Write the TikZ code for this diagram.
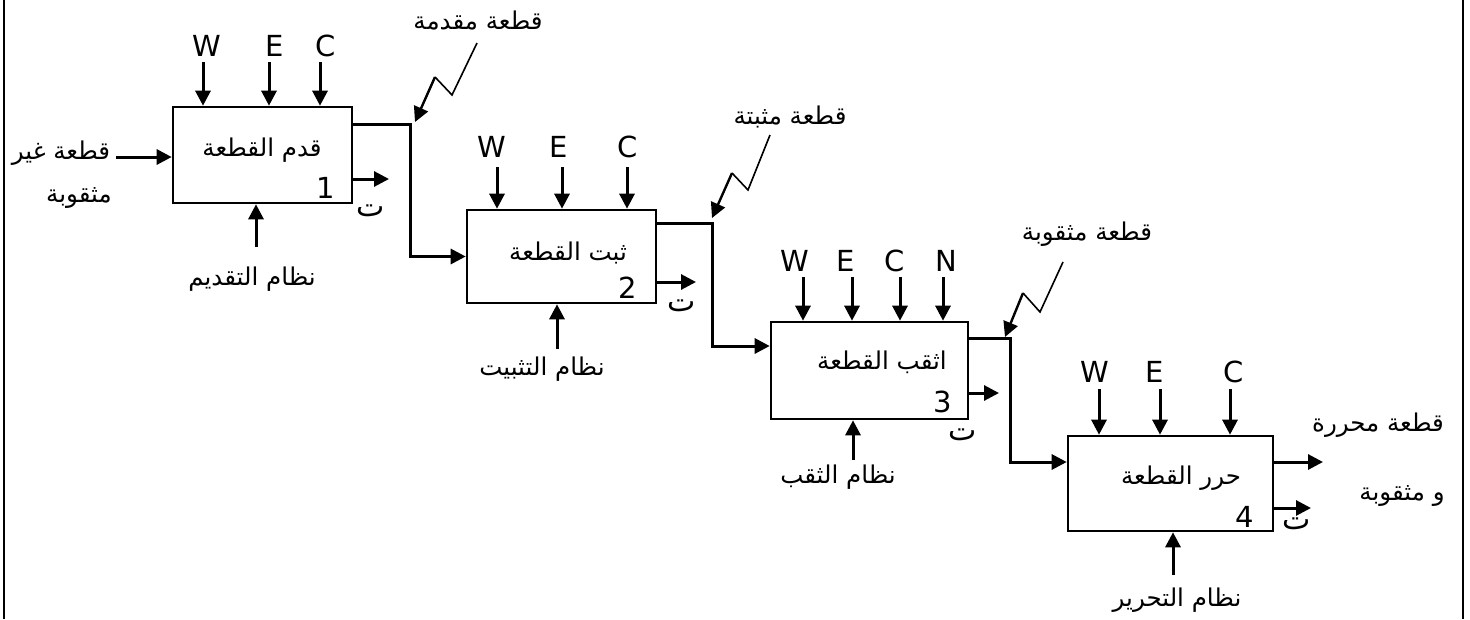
\documentclass[tikz,border=0pt]{standalone}
\usepackage{fontspec}
\setmainfont{DejaVu Sans}
\newfontfamily\arabicfont[Script=Arabic]{DejaVu Sans}
\TeXXeTstate=1
\usetikzlibrary{arrows.meta}
\begin{document}
\begin{tikzpicture}[x=1pt,y=-1pt,
  box/.style={draw, line width=2.6pt, inner sep=0pt},
  arr/.style={line width=3pt, -{Triangle[length=15pt,width=15pt]}},
  zig/.style={line width=1.6pt},
  lat/.style={inner sep=0pt, font=\fontsize{29}{33}\selectfont},
  arl/.style={inner sep=0pt, font=\fontsize{24.5}{28}\selectfont\arabicfont},
  tlab/.style={inner sep=0pt, font=\fontsize{30}{34}\selectfont\arabicfont},
  frame/.style={line width=2.2pt}]
\useasboundingbox (0,0) rectangle (1470,619);
\draw[frame] (4,0) -- (4,619);
\draw[frame] (1463,0) -- (1463,619);

% boxes
\node[box, minimum width=179pt, minimum height=96pt] (b1) at (262.5,155) {};
\node[box, minimum width=189pt, minimum height=93pt] (b2) at (561.5,256.5) {};
\node[box, minimum width=197pt, minimum height=97pt] (b3) at (869.5,370.5) {};
\node[box, minimum width=205pt, minimum height=95pt] (b4) at (1170.5,483.5) {};

% box labels
\node[arl] (t1) at (262,150) {\beginR قدم القطعة\endR};
\node[lat] (n1) at (326,188) {1};
\node[arl] (t2) at (568,253) {\beginR ثبت القطعة\endR};
\node[lat] (n2) at (628,288) {2};
\node[arl] (t3) at (882,362) {\beginR اثقب القطعة\endR};
\node[lat] (n3) at (943,402) {3};
\node[arl] (t4) at (1181,478) {\beginR حرر القطعة\endR};
\node[lat] (n4) at (1245,517) {4};

% top inputs box 1
\node[lat] (w1) at (207,46) {W};
\node[lat] (e1) at (275,46) {E};
\node[lat] (c1) at (326,46) {C};
\coordinate (aw1) at (203,62);
\coordinate (ae1) at (269,62);
\coordinate (ac1) at (320,62);
\foreach \a in {aw1,ae1,ac1} \draw[arr] (\a) -- (\a |- b1.north);

% top inputs box 2
\node[lat] (w2) at (492,147) {W};
\node[lat] (e2) at (559,147) {E};
\node[lat] (c2) at (628,147) {C};
\coordinate (aw2) at (497,167);
\coordinate (ae2) at (562,167);
\coordinate (ac2) at (627,167);
\foreach \a in {aw2,ae2,ac2} \draw[arr] (\a) -- (\a |- b2.north);

% top inputs box 3
\node[lat] (w3) at (795,261) {W};
\node[lat] (e3) at (846,261) {E};
\node[lat] (c3) at (895,261) {C};
\node[lat] (nn3) at (946,261) {N};
\coordinate (aw3) at (803,277);
\coordinate (ae3) at (852,277);
\coordinate (ac3) at (900,277);
\coordinate (an3) at (943,277);
\foreach \a in {aw3,ae3,ac3,an3} \draw[arr] (\a) -- (\a |- b3.north);

% top inputs box 4
\node[lat] (w4) at (1095,372) {W};
\node[lat] (e4) at (1155,372) {E};
\node[lat] (c4) at (1234,372) {C};
\coordinate (aw4) at (1099,389);
\coordinate (ae4) at (1160,389);
\coordinate (ac4) at (1230,389);
\foreach \a in {aw4,ae4,ac4} \draw[arr] (\a) -- (\a |- b4.north);

% bottom mechanisms
\node[arl] (m1) at (252,279) {\beginR نظام التقديم\endR};
\node[arl] (m2) at (542,369) {\beginR نظام التثبيت\endR};
\node[arl] (m3) at (838,477) {\beginR نظام الثقب\endR};
\node[arl] (m4) at (1177,600) {\beginR نظام التحرير\endR};
\coordinate (am1) at (256,247);
\coordinate (am2) at (557,349);
\coordinate (am3) at (853,460);
\coordinate (am4) at (1173,575);
\draw[arr] (am1) -- (am1 |- b1.south);
\draw[arr] (am2) -- (am2 |- b2.south);
\draw[arr] (am3) -- (am3 |- b3.south);
\draw[arr] (am4) -- (am4 |- b4.south);

% small outputs
\coordinate (s1) at (389,179);
\coordinate (s2) at (696,282);
\coordinate (s3) at (999,393);
\coordinate (s4) at (1311,508);
\draw[arr] (s1 -| b1.east) -- (s1);
\draw[arr] (s2 -| b2.east) -- (s2);
\draw[arr] (s3 -| b3.east) -- (s3);
\draw[arr] (s4 -| b4.east) -- (s4);
\node[tlab] (u1) at (371,211) {\beginR ت\endR};
\node[tlab] (u2) at (682,306) {\beginR ت\endR};
\node[tlab] (u3) at (963,435) {\beginR ت\endR};
\node[tlab] (u4) at (1297,524) {\beginR ت\endR};

% main input
\node[arl] (in1) at (61,153) {\beginR قطعة غير\endR};
\node[arl] (in2) at (79,198) {\beginR مثقوبة\endR};
\coordinate (ins) at (116,157);
\draw[arr] (ins) -- (ins -| b1.west);

% flows
\coordinate (k1) at (410,124);
\coordinate (k2) at (712,223);
\coordinate (k3) at (1010,338);
\draw[arr, line join=miter] (k1 -| b1.east) -- (k1) -- (k1 |- b2.west) -- (b2.west);
\draw[arr, line join=miter] (k2 -| b2.east) -- (k2) -- (712,346) -- (b3.west |- 0,346);
\draw[arr, line join=miter] (k3 -| b3.east) -- (k3) -- (1010,462) -- (b4.west |- 0,462);

% final output
\coordinate (fo) at (1323,462);
\draw[arr] (fo -| b4.east) -- (fo);
\node[arl] (o1) at (1378,425) {\beginR قطعة محررة\endR};
\node[arl] (o2) at (1402,496) {\beginR و مثقوبة\endR};

% zigzag callouts
\node[arl] (l1) at (478,20) {\beginR قطعة مقدمة\endR};
\node[arl] (l2) at (790,117) {\beginR قطعة مثبتة\endR};
\node[arl] (l3) at (1087,234) {\beginR قطعة مثقوبة\endR};
\coordinate (za1) at (477,43);
\coordinate (zb1) at (452,95);
\coordinate (zc1) at (435,77);
\coordinate (zt1) at (415,122);
\draw[zig] (za1) -- (zb1) -- (zc1);
\draw[arr, line width=2.4pt] (zc1) -- (zt1);
\coordinate (za2) at (770,135);
\coordinate (zb2) at (748,190);
\coordinate (zc2) at (732,173);
\coordinate (zt2) at (712,218);
\draw[zig] (za2) -- (zb2) -- (zc2);
\draw[arr, line width=2.4pt] (zc2) -- (zt2);
\coordinate (za3) at (1063,262);
\coordinate (zb3) at (1040,312);
\coordinate (zc3) at (1023,293);
\coordinate (zt3) at (1005,337);
\draw[zig] (za3) -- (zb3) -- (zc3);
\draw[arr, line width=2.4pt] (zc3) -- (zt3);
\end{tikzpicture}
\end{document}
